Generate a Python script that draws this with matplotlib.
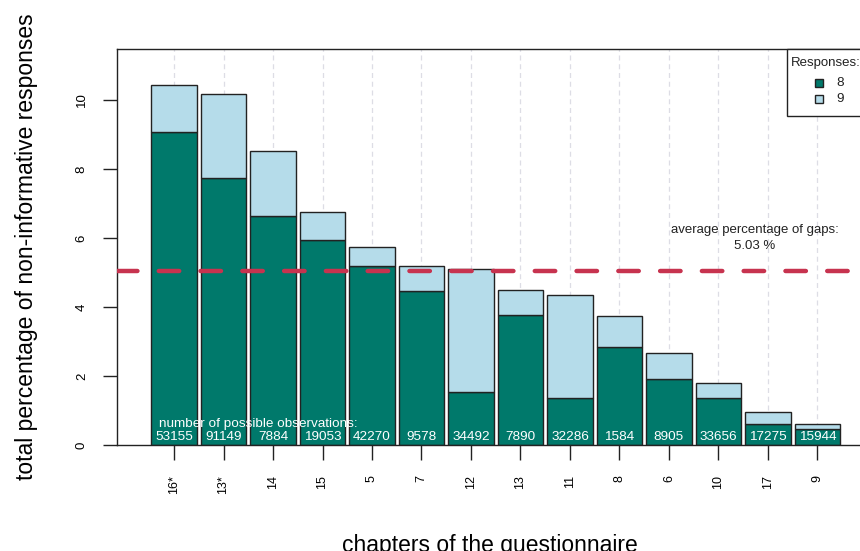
import matplotlib.pyplot as plt
import matplotlib.patches as mpatches
import numpy as np

plt.rcParams['font.family'] = ['Liberation Sans', 'DejaVu Sans']

# chapters sorted by total share of non-informative answers
chapters = ["16*", "13*", "14", "15", "5", "7", "12", "13", "11", "8", "6", "10", "17", "9"]
pct_8 = [9.06, 7.74, 6.64, 5.94, 5.20, 4.47, 1.53, 3.77, 1.35, 2.84, 1.91, 1.35, 0.60, 0.47]
pct_9 = [1.37, 2.43, 1.89, 0.81, 0.55, 0.73, 3.57, 0.73, 3.01, 0.89, 0.76, 0.45, 0.35, 0.15]
n_obs = [53155, 91149, 7884, 19053, 42270, 9578, 34492, 7890, 32286, 1584, 8905, 33656, 17275, 15944]
avg_gap = 5.03

col_8 = "#00796B"
col_9 = "#B5DCEA"
col_avg = "#C7334F"
ink = "#222222"

fig = plt.figure(figsize=(8.6, 5.51), dpi=100)
ax = fig.add_axes([117 / 860, 1 - 445 / 551, 746 / 860, 396 / 551])

x = np.arange(len(chapters))
w = 0.915

# light dashed guides behind the bars
for xi in x:
    ax.axvline(xi, color="#dddde5", lw=0.9, ls=(0, (4, 3)), zorder=0)

ax.bar(x, pct_8, width=w, color=col_8, edgecolor=ink, linewidth=1.0, zorder=2)
ax.bar(x, pct_9, width=w, bottom=pct_8, color=col_9, edgecolor=ink, linewidth=1.0, zorder=2)

ax.axhline(avg_gap, color=col_avg, lw=3.2, ls=(0, (4.6, 4.8)),
           dash_capstyle="round", zorder=4)
ax.text(11.74, 6.0, "average percentage of gaps:\n%.2f %%" % avg_gap,
        ha="center", va="center", fontsize=9.5, color=ink, linespacing=1.45, zorder=5)

for xi, n in zip(x, n_obs):
    ax.text(xi, 0.24, str(n), ha="center", va="center", color="white", fontsize=9.7, zorder=5)
ax.text(1.70, 0.61, "number of possible observations:", ha="center", va="center",
        color="white", fontsize=9.7, zorder=5)

ax.set_xlim(-1.152, 13.92)
ax.set_ylim(0, 11.48)
ax.set_xticks(x)
ax.set_xticklabels(chapters, rotation=90, fontsize=9)
ax.set_yticks(np.arange(0, 11, 2))
ax.set_yticklabels([str(v) for v in range(0, 11, 2)], rotation=90, va="center", fontsize=9.5)
ax.tick_params(axis="x", length=10.8, width=1.0, pad=11, color=ink)
ax.tick_params(axis="y", length=10, width=1.0, pad=11, color=ink)
for s in ax.spines.values():
    s.set_linewidth(1.0)
    s.set_color(ink)

ax.set_ylabel("total percentage of non-informative responses", fontsize=16.5, labelpad=27)
ax.set_xlabel("chapters of the questionnaire", fontsize=16.5, labelpad=29)

# legend box in the top right corner
tr = ax.transAxes
x0 = (786.7 - 117) / 746
y0 = 1 - (115.7 - 49) / 396
ax.add_patch(mpatches.Rectangle((x0, y0), 0.2, 1 - y0, transform=tr, facecolor="white",
                                edgecolor=ink, lw=1.0, zorder=6, clip_on=False))
ax.text((791 - 117) / 746, 1 - (62.7 - 49) / 396, "Responses:", transform=tr,
        ha="left", va="center", fontsize=9.5, color=ink, zorder=7)
for ypix, col, lab in [(82.7, col_8, "8"), (99.3, col_9, "9")]:
    yc = 1 - (ypix - 49) / 396
    ax.add_patch(mpatches.Rectangle(((815.3 - 117) / 746, yc - 4 / 396), 8 / 746, 8 / 396,
                                    transform=tr, facecolor=col, edgecolor=ink, lw=1.0,
                                    zorder=7, clip_on=False))
    ax.text((836.7 - 117) / 746, yc, lab, transform=tr, ha="left", va="center",
            fontsize=9.7, color=ink, zorder=7)

fig.savefig("out.png", dpi=100)
